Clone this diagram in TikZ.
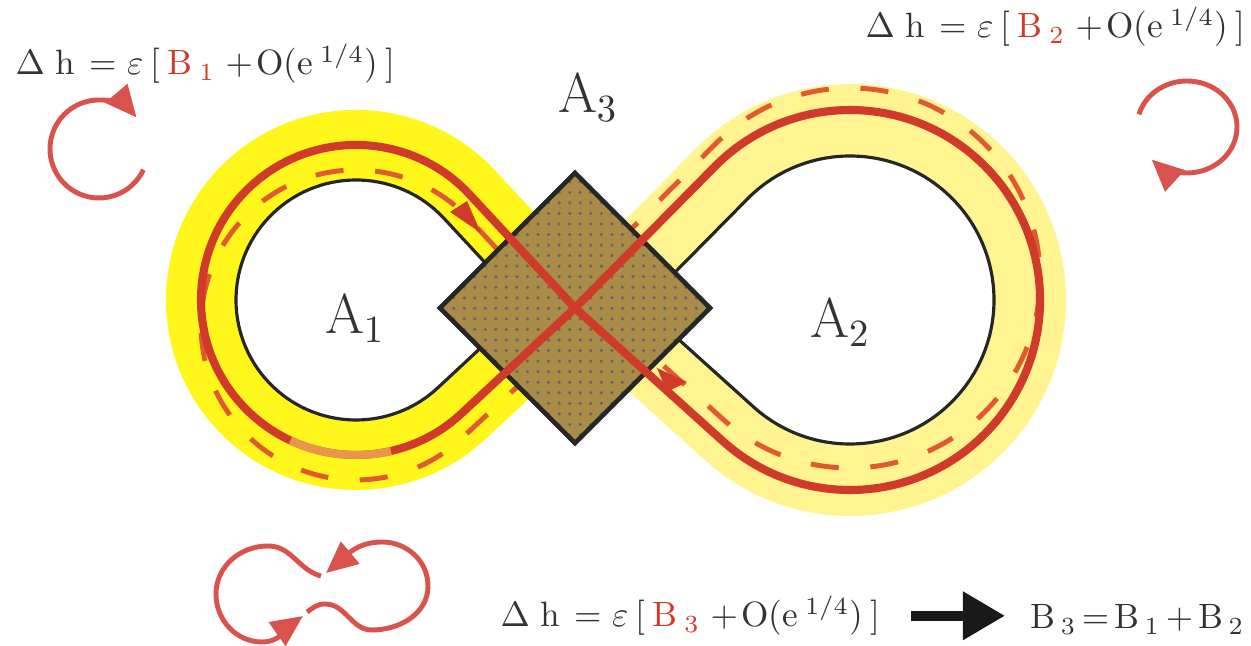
\documentclass[tikz,border=0pt]{standalone}
\usepackage{amsmath}
\usepackage{xcolor}
\usepackage{tikz}
\usetikzlibrary{arrows.meta,calc,positioning,patterns,shapes.geometric}
\definecolor{ink}{HTML}{333333}
\definecolor{trace}{HTML}{CF3A2B}
\definecolor{ghost}{HTML}{E2582F}
\definecolor{speck}{HTML}{E8974A}
\definecolor{hot}{HTML}{FFF71C}
\definecolor{pale}{HTML}{FFF48F}
\definecolor{cell}{HTML}{A88C48}
\definecolor{swirl}{HTML}{D9534C}
\newcommand{\shiftlaw}[1]{$\Delta$\hspace{3pt}h\hspace{4pt}$=$\hspace{3pt}$\varepsilon$\hspace{2pt}[\hspace{2pt}{\color{trace}B\hspace{2pt}$_{#1}$}\hspace{3pt}$+$\hspace{1pt}O(e\hspace{2pt}$^{1/4}$)\hspace{2pt}]}
\tikzset{band/.style={line width=.7cm},rim/.style={draw=black!85,line width=.9pt},orbit/.style={draw=trace,line width=2.3pt},phase/.style={draw=ghost,line width=1.4pt,dash pattern=on 8pt off 9pt},swirlarrow/.style={draw=swirl,line width=1.4pt,-{Triangle[length=9pt,width=8pt]}},eqn/.style={font=\fontsize{10}{12}\selectfont,text=ink,inner sep=0pt},region/.style={font=\fontsize{16}{19}\selectfont,text=ink}}
\begin{document}
\begin{tikzpicture}[x=.01cm,y=.01cm]
 \useasboundingbox (0,0) rectangle (1251,646);
 \coordinate (C) at (575,338); \coordinate (L) at (356,346); \coordinate (R) at (850,346);
 \coordinate (lt) at (469.5,451.5); \coordinate (lb) at (461.5,232.5); \coordinate (rt) at (714.7,479.4); \coordinate (rb) at (722.9,204.8);
 \draw[band,draw=pale,line width=.72cm] (589.5,338.4)--($(R)+(228:180)$) arc[start angle=228,end angle=495.4,radius=180]--(589.5,338.4);
 \draw[band,draw=hot] (C)--(lb) arc[start angle=-47.1,end angle=-317.1,radius=155]--(C);
 \draw[rim] (525.6,339.8)--($(L)+(-47.1:120)$) arc[start angle=-47.1,end angle=-317.1,radius=120]--cycle;
 \draw[rim] (641.6,339.9)--($(R)+(228:144)$) arc[start angle=228,end angle=495.4,radius=144]--cycle;
 \draw[phase] (575,313)--(461.5,207.5) arc[start angle=-47.1,end angle=-317.1,radius=155]--cycle;
 \draw[phase] (575,360)--(722.9,226.8) arc[start angle=228,end angle=495.4,radius=190]--cycle;
 \node[diamond,draw=black!85,line width=1.3pt,preaction={fill=cell},pattern=dots,pattern color=black!60,minimum width=2.72cm,minimum height=2.72cm,inner sep=0pt] (A3cell) at (C) {};
 \draw[orbit] (C)--(rb) arc[start angle=228,end angle=495.4,radius=190]--(C)--(lb) arc[start angle=-47.1,end angle=-317.1,radius=155]--cycle;
 \draw[orbit,draw=speck] ($(L)+(-115:155)$) arc[start angle=-115,end angle=-77,radius=155];
 \fill[trace] (450,434)--(467,445)--(481,413)--cycle;
 \fill[trace] (657,278)--(687,264)--(667,254)--cycle;
 \node[region] (A1) at (355,328) {A$_1$};
 \node[region] (A2) at (840,324) {A$_2$};
 \node[region] (A3) at (588,549) {A$_3$};
 \node[eqn,anchor=base west] (eqA) at (15,571) {\shiftlaw{1}};
 \node[eqn,anchor=base west] (eqB) at (865,608) {\shiftlaw{2}};
 \node[eqn,anchor=base west] (eqC) at (500,19) {\shiftlaw{3}};
 \node[eqn,anchor=base west] (sumB) at (1030,17) {B\hspace{1.5pt}$_3$\hspace{1.5pt}$=$\hspace{1.5pt}B\hspace{1.5pt}$_1$\hspace{1.5pt}$+$\hspace{1.5pt}B\hspace{1.5pt}$_2$};
 \draw[-{Triangle[length=.42cm,width=.46cm]},line width=2.8pt,draw=black!90,shorten <=.3cm,shorten >=.25cm] (eqC.east)--(eqC.east-|sumB.west);
 \coordinate (spinL) at (99,497); \coordinate (spinR) at (1187,519);
 \draw[swirlarrow] (spinL) ++(-25:49) arc[start angle=-25,end angle=-320,radius=49];
 \draw[swirlarrow] (spinR) ++(164:50 and 46) arc[start angle=164,end angle=-135,x radius=50,y radius=46];
 \draw[swirlarrow] (321,70) to[out=165,in=0] (268,100) to[out=180,in=90] (216,52) to[out=-90,in=180] (262,4) to[out=0,in=215] (303,30);
 \draw[swirlarrow] (307,34) to[out=35,in=180] (325,42) to[out=0,in=180] (372,16) to[out=0,in=-90] (428,60) to[out=90,in=0] (382,104) to[out=180,in=40] (326,73);
\end{tikzpicture}
\end{document}
